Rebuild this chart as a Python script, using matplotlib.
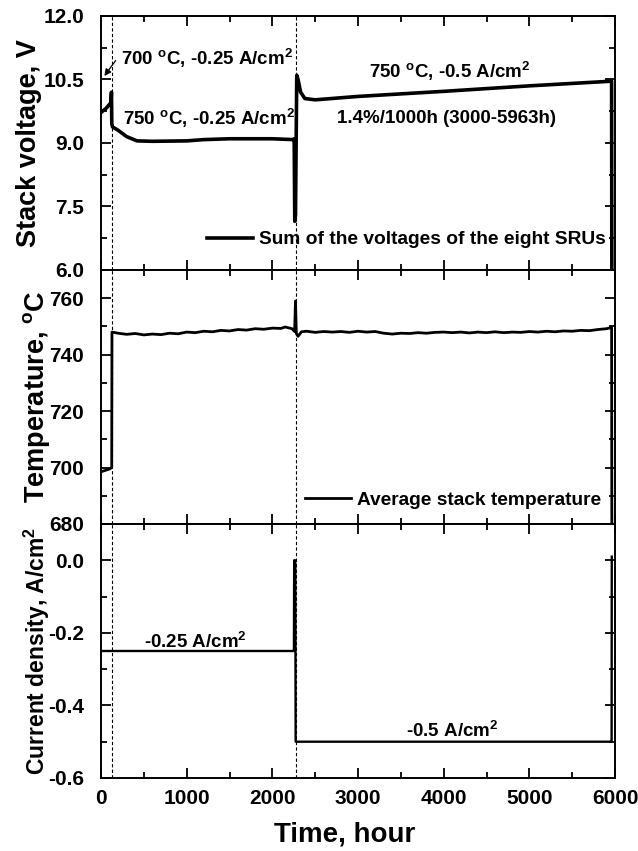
import numpy as np
import matplotlib
matplotlib.use("Agg")
import matplotlib.pyplot as plt
from matplotlib.ticker import MultipleLocator

plt.rcParams['font.family'] = ['Liberation Sans', 'DejaVu Sans']
plt.rcParams['font.weight'] = 'bold'
plt.rcParams['mathtext.default'] = 'regular'
plt.rcParams['axes.unicode_minus'] = False

# ---------- data ----------
t_volt = [0, 60, 115, 122, 126, 135, 200, 300, 420, 600, 1000, 1200, 1500, 2000,
          2245, 2255, 2262, 2270, 2285, 2300, 2330, 2380, 2500, 3000, 4000, 5000, 5960, 5963]
volt = [9.72, 9.82, 9.95, 10.2, 9.45, 9.38, 9.3, 9.15, 9.05, 9.04, 9.05, 9.08, 9.1, 9.1,
        9.08, 9.1, 7.15, 7.3, 10.6, 10.5, 10.2, 10.05, 10.02, 10.1, 10.22, 10.35, 10.46, 5.5]

t_temp = [0, 50, 100, 125, 128, 200, 300, 400, 500, 600, 700, 800, 900, 1000, 1100, 1200,
          1300, 1400, 1500, 1600, 1700, 1800, 1900, 2000, 2100, 2150, 2230, 2260, 2270, 2280,
          2300, 2340, 2400, 2500, 2600, 2700, 2800, 2900, 3000, 3100, 3200, 3300, 3400, 3500,
          3600, 3700, 3800, 3900, 4000, 4100, 4200, 4300, 4400, 4500, 4600, 4700, 4800, 4900,
          5000, 5100, 5200, 5300, 5400, 5500, 5600, 5700, 5800, 5900, 5960, 5963]
temp = [698.5, 699, 699.5, 700, 748, 747.6, 747.2, 747.5, 747.0, 747.3, 747.1, 747.6, 747.4,
        748.0, 747.8, 748.3, 748.1, 748.6, 748.4, 748.9, 748.7, 749.2, 749.0, 749.4, 749.3,
        749.8, 749.2, 748.2, 759, 747.5, 746.5, 748.1, 748.3, 747.9, 748.2, 748.0, 748.2,
        747.9, 748.3, 748.0, 748.2, 747.6, 747.3, 747.6, 747.5, 747.8, 747.6, 747.9, 748.0,
        747.8, 748.0, 747.7, 748.0, 747.8, 748.1, 747.8, 748.0, 747.9, 748.2, 748.0, 748.3,
        748.1, 748.4, 748.3, 748.6, 748.5, 748.9, 749.2, 749.6, 670]

t_curr = [0, 2252, 2255, 2268, 2272, 5960, 5962]
curr = [-0.25, -0.25, 0.0, 0.0, -0.5, -0.5, 0.01]

t_switch = [128, 2276]

fig, axes = plt.subplots(3, 1, sharex=True, figsize=(6.38, 8.51), dpi=100)
fig.subplots_adjust(left=0.1583, right=0.964, top=0.9812, bottom=0.0858, hspace=0)
ax1, ax2, ax3 = axes

ax1.plot(t_volt, volt, color='black', lw=2.6, label='Sum of the voltages of the eight SRUs')
ax2.plot(t_temp, temp, color='black', lw=2.0, label='Average stack temperature')
ax3.plot(t_curr, curr, color='black', lw=1.7)

for ax in axes:
    for ts in t_switch:
        ax.axvline(ts, color='black', ls=(0, (3, 2)), lw=0.8)
    ax.set_xlim(0, 6000)
    ax.xaxis.set_major_locator(MultipleLocator(1000))
    ax.xaxis.set_minor_locator(MultipleLocator(500))
    ax.tick_params(which='both', direction='in', top=True, right=True, labelsize=15, width=1.3)
    ax.tick_params(which='major', length=7)
    ax.tick_params(which='minor', length=4)
    ax.tick_params(axis='y', pad=12)
    ax.tick_params(axis='x', pad=8)
    for s in ax.spines.values():
        s.set_linewidth(1.4)

ax1.set_ylim(6, 12)
ax1.yaxis.set_major_locator(MultipleLocator(1.5))
ax1.yaxis.set_minor_locator(MultipleLocator(0.75))
ax1.yaxis.set_major_formatter('{x:.1f}')
ax1.set_ylabel('Stack voltage, V', fontsize=19.5, fontweight='bold')

ax2.set_ylim(680, 770)
ax2.set_yticks([680, 700, 720, 740, 760])
ax2.yaxis.set_minor_locator(MultipleLocator(10))
ax2.set_ylabel('Temperature, $^{o}$C', fontsize=19.5, fontweight='bold')

ax3.set_ylim(-0.6, 0.1)
ax3.set_yticks([-0.6, -0.4, -0.2, 0.0])
ax3.yaxis.set_minor_locator(MultipleLocator(0.1))
ax3.yaxis.set_major_formatter('{x:.1f}')
ax3.set_ylabel('Current density, A/cm$^2$', fontsize=16.5, fontweight='bold')
ax3.set_xlabel('Time, hour', fontsize=20, fontweight='bold')

ax1.yaxis.set_label_coords(-0.115, 0.5)
ax2.yaxis.set_label_coords(-0.095, 0.5)
ax3.yaxis.set_label_coords(-0.096, 0.5)
ax3.xaxis.set_label_coords(0.473, -0.17)

# annotations
ax1.annotate('', xy=(20, 10.53), xytext=(190, 11.0),
             arrowprops=dict(arrowstyle='-|>', color='black', lw=0.9, mutation_scale=10))
ax1.text(230, 11.0, '700 $^{o}$C, -0.25 A/cm$^2$', fontsize=13.5, fontweight='bold', va='center')
ax1.text(260, 9.57, '750 $^{o}$C, -0.25 A/cm$^2$', fontsize=13.5, fontweight='bold', va='center')
ax1.text(4070, 10.68, '750 $^{o}$C, -0.5 A/cm$^2$', fontsize=13.5, fontweight='bold', va='center', ha='center')
ax1.text(4030, 9.59, '1.4%/1000h (3000-5963h)', fontsize=13.5, fontweight='bold', va='center', ha='center')

ax1.legend(loc='lower right', bbox_to_anchor=(0.982, 0.085), frameon=False,
           prop={'weight': 'bold', 'size': 13.8}, handlelength=2.4, handletextpad=0.3,
           borderpad=0, borderaxespad=0)
ax2.legend(loc='lower right', bbox_to_anchor=(0.972, 0.06), frameon=False,
           prop={'weight': 'bold', 'size': 13.8}, handlelength=2.4, handletextpad=0.3,
           borderpad=0, borderaxespad=0)

ax3.text(1100, -0.225, '-0.25 A/cm$^2$', fontsize=13.5, fontweight='bold', va='center', ha='center')
ax3.text(4100, -0.47, '-0.5 A/cm$^2$', fontsize=13.5, fontweight='bold', va='center', ha='center')

fig.savefig('out.png', dpi=100)
